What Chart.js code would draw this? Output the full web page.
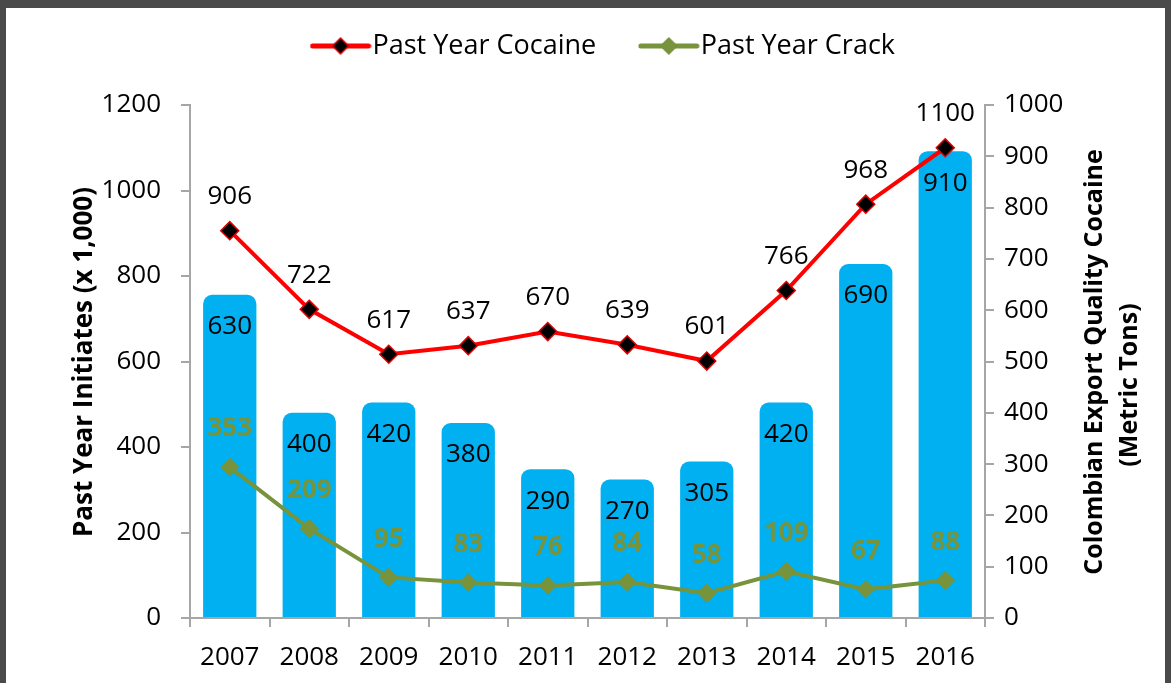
<!DOCTYPE html>
<html><head><meta charset="utf-8">
<script src="https://cdn.jsdelivr.net/npm/chart.js@4.4.0/dist/chart.umd.min.js"></script>
<style>
html,body{margin:0;padding:0;background:#fff;}
#wrap{position:relative;width:1171px;height:683px;overflow:hidden;background:#fff;}
canvas{position:absolute;left:0;top:0;}
.frame{position:absolute;background:#4a4a4a;}
</style></head><body>
<div id="wrap"><canvas id="c" width="1171" height="683"></canvas>
<div class="frame" style="left:0;top:0;width:1171px;height:8px"></div>
<div class="frame" style="left:0;top:0;width:6px;height:683px"></div>
<div class="frame" style="right:0;top:0;width:6px;height:683px"></div>
</div>
<script>
const years = ['2007','2008','2009','2010','2011','2012','2013','2014','2015','2016'];
const cocaineInitiates = [906, 722, 617, 637, 670, 639, 601, 766, 968, 1100];
const crackInitiates = [353, 209, 95, 83, 76, 84, 58, 109, 67, 88];
const exportTons = [630, 400, 420, 380, 290, 270, 305, 420, 690, 910];
const leftAxis = {min: 0, max: 1200, step: 200};
const rightAxis = {min: 0, max: 1000, step: 100};

const FONT = '"Open Sans", Lato, sans-serif';
const GRAY = '#A6A6A6';
const FS = 26;
const LFS = 27;

function makeIcon(lineColor, fill, border){
  const c = document.createElement('canvas'); c.width = 62; c.height = 22;
  const g = c.getContext('2d');
  g.strokeStyle = lineColor; g.lineWidth = 5; g.lineCap = 'round';
  g.beginPath(); g.moveTo(3, 11); g.lineTo(59, 11); g.stroke();
  g.fillStyle = fill; g.strokeStyle = border; g.lineWidth = 1.5;
  g.beginPath(); g.moveTo(31, 3); g.lineTo(39, 11); g.lineTo(31, 19); g.lineTo(23, 11); g.closePath();
  g.fill(); g.stroke();
  return c;
}
const legendIcons = [makeIcon('#FF0000', '#000000', '#E00000'), makeIcon('#77933C', '#77933C', '#77933C')];

const valueLabels = {
  id: 'valueLabels',
  afterDatasetsDraw(chart){
    const ctx = chart.ctx;
    ctx.save();
    ctx.textAlign = 'center'; ctx.textBaseline = 'middle';
    chart.data.datasets.forEach((ds, i) => {
      const meta = chart.getDatasetMeta(i);
      const cfg = ds.valueLabel;
      meta.data.forEach((el, j) => {
        ctx.fillStyle = cfg.color; ctx.font = cfg.font;
        ctx.fillText(String(ds.data[j]), el.x, el.y + cfg.dy);
      });
    });
    ctx.restore();
  }
};

const axisTitles = {
  id: 'axisTitles',
  afterDraw(chart){
    const ctx = chart.ctx;
    ctx.save();
    ctx.fillStyle = '#000'; ctx.textAlign = 'center'; ctx.textBaseline = 'middle';
    const draw = (t, x, y) => { ctx.save(); ctx.translate(x, y); ctx.rotate(-Math.PI/2); ctx.fillText(t, 0, 0); ctx.restore(); };
    ctx.font = 'bold 26px ' + FONT;
    draw('Past Year Initiates (x 1,000)', 85, 362);
    ctx.font = 'bold 25px ' + FONT;
    draw('Colombian Export Quality Cocaine', 1095, 362);
    draw('(Metric Tons)', 1130, 385);
    ctx.restore();
  }
};

const LEG_PAD = 54;
const LEGEND_SHIFT = 23;
const LEGEND_LIFT = LEG_PAD - (46 - LFS / 2);
const legendFix = {
  id: 'legendFix',
  beforeLayout(chart){
    const lg = chart.legend;
    if (lg && !lg._patched){
      const f = lg.fit;
      lg.fit = function(){ f.call(this); this.height = 105; };
      lg._patched = true;
    }
  },
  afterLayout(chart){
    const lg = chart.legend;
    if (lg){
      lg.left += LEGEND_SHIFT; lg.right += LEGEND_SHIFT;
      lg.top -= LEGEND_LIFT; lg.bottom -= LEGEND_LIFT;
    }
  }
};

const tickFont = {family: FONT, size: FS};
const plain = v => String(v);

new Chart(document.getElementById('c'), {
  type: 'bar',
  data: {
    labels: years,
    datasets: [
      {
        type: 'line', label: 'Past Year Cocaine', data: cocaineInitiates, yAxisID: 'y',
        borderColor: '#FF0000', borderWidth: 4, tension: 0,
        pointStyle: 'rectRot', pointRadius: 9, pointBackgroundColor: '#000000',
        pointBorderColor: '#E00000', pointBorderWidth: 1.5, order: 1,
        valueLabel: {color: '#000', font: FS + 'px ' + FONT, dy: -34}
      },
      {
        type: 'line', label: 'Past Year Crack', data: crackInitiates, yAxisID: 'y',
        borderColor: '#77933C', borderWidth: 4, tension: 0,
        pointStyle: 'rectRot', pointRadius: 9, pointBackgroundColor: '#77933C',
        pointBorderColor: '#77933C', pointBorderWidth: 1, order: 2,
        valueLabel: {color: '#77933C', font: 'bold ' + FS + 'px ' + FONT, dy: -38}
      },
      {
        type: 'bar', label: 'Colombian Export Quality Cocaine', data: exportTons, yAxisID: 'y1',
        backgroundColor: '#00B0F0', barPercentage: 0.67, categoryPercentage: 1,
        borderRadius: 9, borderSkipped: 'start', order: 3,
        valueLabel: {color: '#000', font: FS + 'px ' + FONT, dy: 32}
      }
    ]
  },
  options: {
    responsive: false, animation: false, events: [],
    layout: {padding: 0},
    plugins: {
      tooltip: {enabled: false},
      legend: {
        position: 'top',
        labels: {
          usePointStyle: true, pointStyleWidth: 37, padding: LEG_PAD, color: '#000',
          font: {family: FONT, size: LFS},
          generateLabels(chart){
            const items = Chart.defaults.plugins.legend.labels.generateLabels(chart);
            return items.filter(it => it.datasetIndex < 2).map(it => { it.pointStyle = legendIcons[it.datasetIndex]; return it; });
          }
        }
      }
    },
    scales: {
      x: {
        grid: {offset: true, drawOnChartArea: false, drawTicks: true, tickLength: 9, color: GRAY, lineWidth: 2},
        border: {display: true, color: GRAY, width: 2},
        ticks: {color: '#000', font: tickFont, padding: 15},
        afterFit(s){ s.height = 65; }
      },
      y: {
        position: 'left', min: leftAxis.min, max: leftAxis.max,
        ticks: {stepSize: leftAxis.step, color: '#000', font: tickFont, padding: 20, callback: plain},
        grid: {drawOnChartArea: false, drawTicks: true, tickLength: 9, color: GRAY, lineWidth: 2},
        border: {display: true, color: GRAY, width: 2},
        afterFit(s){ s.width = 190; }
      },
      y1: {
        position: 'right', min: rightAxis.min, max: rightAxis.max,
        ticks: {stepSize: rightAxis.step, color: '#000', font: tickFont, padding: 10, callback: plain},
        grid: {drawOnChartArea: false, drawTicks: true, tickLength: 9, color: GRAY, lineWidth: 2},
        border: {display: true, color: GRAY, width: 2},
        afterFit(s){ s.width = 186; }
      }
    }
  },
  plugins: [valueLabels, axisTitles, legendFix]
});
</script>
</body></html>
